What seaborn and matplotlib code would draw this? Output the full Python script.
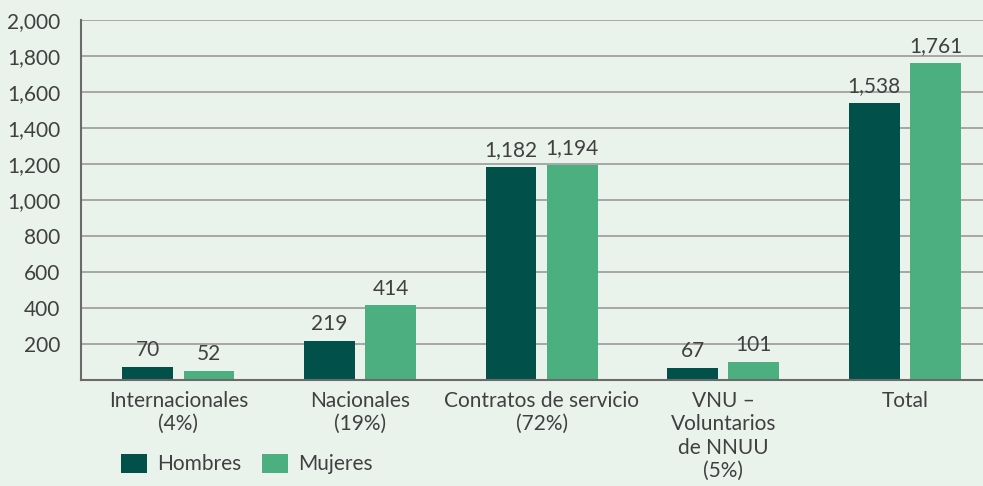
import pandas as pd
import numpy as np
import matplotlib
matplotlib.use("Agg")
import matplotlib.pyplot as plt
import seaborn as sns

categories = ["Internacionales\n(4%)", "Nacionales\n(19%)", "Contratos de servicio\n(72%)",
              "VNU –\nVoluntarios\nde NNUU\n(5%)", "Total"]
hombres = [70, 219, 1182, 67, 1538]
mujeres = [52, 414, 1194, 101, 1761]
series = ["Hombres", "Mujeres"]
y_ticks = [200, 400, 600, 800, 1000, 1200, 1400, 1600, 1800, 2000]

bg = "#e9f3ec"
text_col = "#404040"
colors = ["#02504a", "#4caf80"]
fs = 15

df = pd.DataFrame({
    "categoria": categories * 2,
    "valor": hombres + mujeres,
    "serie": [series[0]] * len(categories) + [series[1]] * len(categories),
})

sns.set_theme(style="white")
plt.rcParams["font.family"] = ["Lato", "DejaVu Sans"]

fig = plt.figure(figsize=(9.83, 4.86), dpi=100, facecolor=bg)
ax = fig.add_axes([81 / 983, 1 - 380 / 486, 1 - 81 / 983, 360 / 486])
ax.set_facecolor(bg)

sns.barplot(data=df, x="categoria", y="valor", hue="serie", palette=colors,
            width=0.674, gap=0.17, ax=ax, legend=True, saturation=1, linewidth=0)

for cont in ax.containers:
    ax.bar_label(cont, labels=[f"{v:,.0f}" for v in cont.datavalues],
                 padding=5, fontsize=fs, color=text_col)

ax.set_ylim(0, 2000)
ax.set_xlim(-0.536, 4.43)
ax.set_yticks(y_ticks)
ax.set_yticklabels([f"{v:,}" for v in y_ticks])
ax.yaxis.grid(True, color="#9a9a9a", linewidth=1.2)
ax.set_axisbelow(True)
ax.set_xlabel("")
ax.set_ylabel("")
ax.tick_params(axis="y", length=0, pad=15, labelsize=fs, labelcolor=text_col)
ax.tick_params(axis="x", length=0, pad=8, labelsize=fs, labelcolor=text_col)
for lbl in ax.get_xticklabels():
    lbl.set_linespacing(1.2)

for side in ["top", "right"]:
    ax.spines[side].set_visible(False)
for side in ["left", "bottom"]:
    ax.spines[side].set_color("#6a6a6a")
    ax.spines[side].set_linewidth(1.5)

handles, labels = ax.get_legend_handles_labels()
ax.get_legend().remove()
fig.legend(handles, labels, loc="center left", bbox_to_anchor=(121 / 983, 1 - 464 / 486),
           ncol=2, frameon=False, fontsize=fs, labelcolor=text_col,
           handlelength=1.25, handleheight=1.05, handletextpad=0.5,
           columnspacing=0.95, borderpad=0, borderaxespad=0)

fig.savefig("out.png", dpi=100, facecolor=bg)
